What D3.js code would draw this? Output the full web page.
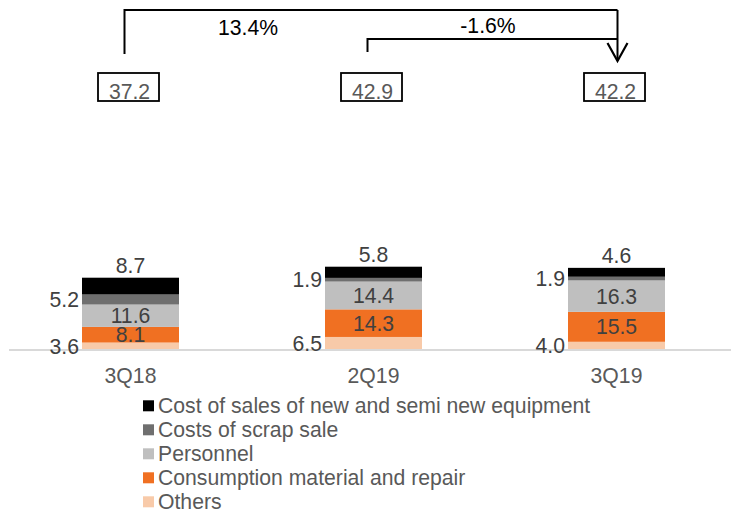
<!DOCTYPE html>
<html>
<head>
<meta charset="utf-8">
<script src="https://cdn.jsdelivr.net/npm/d3@7"></script>
<style>
  html, body { margin: 0; padding: 0; background: #fff; }
  svg { display: block; font-family: "Liberation Sans", Arial, sans-serif; }
</style>
</head>
<body>
<svg id="chart" width="731" height="513"></svg>
<script>
// Quarters shown on the x axis
const categories = ["3Q18", "2Q19", "3Q19"];

// Cost components, listed bottom to top of each stack
const seriesNames = [
  "Others",
  "Consumption material and repair",
  "Personnel",
  "Costs of scrap sale",
  "Cost of sales of new and semi new equipment"
];
const others      = [3.6, 6.5, 4.0];
const consumption = [8.1, 14.3, 15.5];
const personnel   = [11.6, 14.4, 16.3];
const scrap       = [5.2, 1.9, 1.9];
const newEquip    = [8.7, 5.8, 4.6];

// Reported totals and period-over-period changes
const totals = [37.2, 42.9, 42.2];
const changes = [
  { from: "3Q18", to: "3Q19", label: "13.4%" },
  { from: "2Q19", to: "3Q19", label: "-1.6%" }
];

const seriesValues = [others, consumption, personnel, scrap, newEquip];
const colors = ["#f8caa9", "#f07022", "#bfbfbf", "#6f6f6f", "#000000"];
// where each segment's value label sits: inside, left of the bar, or above it
const labelPlacement = ["left", "inside", "inside", "left", "above"];

const rows = categories.map((c, i) => {
  const r = { cat: c };
  seriesNames.forEach((s, j) => { r[s] = seriesValues[j][i]; });
  return r;
});

const svg = d3.select("#chart");
const textColor = "#404040";
const fontSize = 21.2;

// bar centres
const x = d3.scalePoint()
  .domain(categories)
  .range([130.5, 616.5]);
const barW = 97;
const cx = c => x(c);

const y = d3.scaleLinear().domain([0, 50]).range([349.5, 349.5 - 50 * 1.93]);

const stacked = d3.stack().keys(seriesNames)(rows);

// bars
const layers = svg.append("g").selectAll("g")
  .data(stacked)
  .join("g")
  .attr("fill", (d, i) => colors[i]);

layers.selectAll("rect")
  .data(d => d)
  .join("rect")
  .attr("x", d => cx(d.data.cat) - barW / 2)
  .attr("width", barW)
  .attr("y", d => y(d[1]))
  .attr("height", d => y(d[0]) - y(d[1]));

// baseline
svg.append("line")
  .attr("x1", 9).attr("x2", 731)
  .attr("y1", y(0) + 0.5).attr("y2", y(0) + 0.5)
  .attr("stroke", "#d9d9d9").attr("stroke-width", 2);

// segment value labels
stacked.forEach((layer, i) => {
  const place = labelPlacement[i];
  svg.append("g").selectAll("text")
    .data(layer)
    .join("text")
    .attr("font-size", fontSize)
    .attr("fill", textColor)
    .attr("text-anchor", place === "left" ? "end" : "middle")
    .attr("x", d => place === "left" ? cx(d.data.cat) - barW / 2 - 3 : cx(d.data.cat))
    .attr("y", d => {
      if (place === "above") return y(d[1]) - 5;
      return (y(d[0]) + y(d[1])) / 2 + 7.5;
    })
    .text(d => (d[1] - d[0]).toFixed(1));
});

// category labels
svg.append("g").selectAll("text")
  .data(categories)
  .join("text")
  .attr("x", c => cx(c))
  .attr("y", 383)
  .attr("text-anchor", "middle")
  .attr("font-size", fontSize)
  .attr("fill", "#595959")
  .text(c => c);

// total boxes
const boxW = 61, boxH = 28, boxTop = 73;
const boxes = svg.append("g").selectAll("g")
  .data(categories)
  .join("g");
boxes.append("rect")
  .attr("x", c => cx(c) - 2 - boxW / 2)
  .attr("y", boxTop)
  .attr("width", boxW)
  .attr("height", boxH)
  .attr("fill", "#fff")
  .attr("stroke", "#000")
  .attr("stroke-width", 1.8);
boxes.append("text")
  .attr("x", c => cx(c) - 1)
  .attr("y", boxTop + 26)
  .attr("text-anchor", "middle")
  .attr("font-size", fontSize)
  .attr("fill", "#595959")
  .text((c, i) => totals[i].toFixed(1));

// change brackets
const bracketTops = [10, 39];
const arrowX = cx("3Q19") + 1;
const g = svg.append("g")
  .attr("fill", "none")
  .attr("stroke", "#000")
  .attr("stroke-width", 2);
changes.forEach((ch, i) => {
  const x0 = cx(ch.from) - 6;
  const top = bracketTops[i];
  const bottom = i === 0 ? 54 : 52;
  g.append("path")
    .attr("d", `M${x0},${bottom}V${top}H${arrowX}`);
  svg.append("text")
    .attr("x", i === 0 ? 248 : 488)
    .attr("y", top + (i === 0 ? 25 : -6))
    .attr("text-anchor", "middle")
    .attr("font-size", fontSize)
    .attr("fill", "#000")
    .text(ch.label);
});
g.append("path").attr("d", `M${arrowX},10V61`);
g.append("path")
  .attr("d", `M${arrowX - 10},43L${arrowX},61L${arrowX + 10},43`)
  .attr("stroke-width", 2.2);

// legend (top to bottom mirrors the stack order)
const legendOrder = seriesNames.map((s, i) => i).reverse();
const legend = svg.append("g").selectAll("g")
  .data(legendOrder)
  .join("g")
  .attr("transform", (d, k) => `translate(143,${405.8 + k * 24})`);
legend.append("rect")
  .attr("x", 0).attr("y", -5.5)
  .attr("width", 11).attr("height", 11)
  .attr("fill", d => colors[d]);
legend.append("text")
  .attr("x", 15)
  .attr("y", 7.5)
  .attr("font-size", fontSize)
  .attr("fill", "#595959")
  .text(d => seriesNames[d]);
</script>
</body>
</html>
